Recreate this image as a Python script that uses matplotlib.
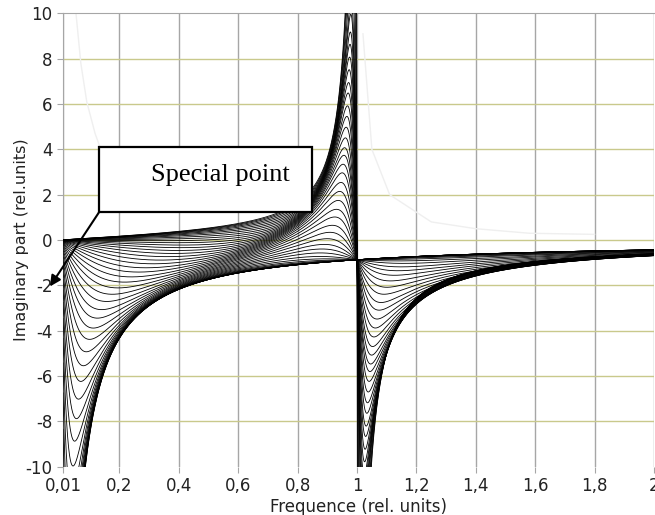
import numpy as np
import matplotlib
matplotlib.use("Agg")
import matplotlib.pyplot as plt
from matplotlib.patches import Rectangle

plt.rcParams["axes.unicode_minus"] = False

# damping of the low-frequency term for each curve (bottom curve -> top curve)
low_damp = [0.0120, 0.0135, 0.0152, 0.0171, 0.0192, 0.0216, 0.0243, 0.0273,
            0.0307, 0.0345, 0.0388, 0.0437, 0.0491, 0.0553, 0.0621, 0.0699,
            0.0786, 0.0884, 0.0994, 0.112, 0.126, 0.141, 0.159, 0.179,
            0.201, 0.226, 0.254, 0.286, 0.321, 0.361, 0.406, 0.457,
            0.514, 0.578, 0.650, 0.731, 0.822, 0.925, 1.04, 1.17,
            1.32, 1.48, 1.66, 1.87, 2.10, 2.37, 2.66, 3.00]
# damping of the resonance at f = 1 for each curve (same order)
res_damp = [15, 12, 9.5, 7.7, 6.2, 5, 4, 3.2, 2.6, 2.1, 1.7, 1.35, 1.08, 0.87,
            0.7, 0.56, 0.45, 0.363, 0.31, 0.27, 0.234, 0.205, 0.183, 0.162,
            0.148, 0.134, 0.1225, 0.113, 0.104, 0.0973, 0.091, 0.0864, 0.0806,
            0.075, 0.070, 0.0657, 0.061, 0.0577, 0.054, 0.0508, 0.0479, 0.0454,
            0.0422, 0.0402, 0.0358, 0.0296, 0.0225, 0.0153]
low_amp = 0.87
res_amp = 0.92
mix_ref = 0.12     # low damping at which the resonance reaches half weight
above_k = 3.0      # extra damping of the low term above resonance

# faint ghost traces visible in the upper part
ghost_left_x = [0.05, 0.07, 0.09, 0.118, 0.14]
ghost_left_y = [10.5, 7.8, 6.1, 4.7, 3.9]
ghost_right_x = [1.02, 1.05, 1.11, 1.25, 1.4, 1.58, 1.8]
ghost_right_y = [9.1, 4.0, 2.0, 0.8, 0.5, 0.3, 0.25]

x_ticks = [0.01, 0.2, 0.4, 0.6, 0.8, 1.0, 1.2, 1.4, 1.6, 1.8, 2.0]
x_labels = ["0,01", "0,2", "0,4", "0,6", "0,8", "1", "1,2", "1,4", "1,6", "1,8", "2"]
y_ticks = [-10, -8, -6, -4, -2, 0, 2, 4, 6, 8, 10]


def curve(x, g, d):
    u = 1 - x ** 2
    k = np.where(x > 1, above_k, 1.0)
    low = -low_amp * x / (x ** 2 + (g * k * u) ** 2)
    w = g ** 2 / (g ** 2 + mix_ref ** 2)
    res = w * res_amp * x * u / (u ** 2 + (d * x) ** 2)
    return low + res


fig = plt.figure(figsize=(6.55, 5.15), dpi=100)
ax = fig.add_axes([0.0962, 0.0938, 0.9023, 0.8802])

for xt in x_ticks:
    ax.axvline(xt, color="#a6a6a6", lw=1.0, zorder=1)
for yt in y_ticks[1:-1]:
    ax.axhline(yt, color="#c9c98c", lw=1.0, zorder=1)

ax.plot(ghost_left_x, ghost_left_y, color="#efefef", lw=1.0, zorder=2)
ax.plot(ghost_right_x, ghost_right_y, color="#efefef", lw=1.0, zorder=2)

f = np.linspace(0.01, 2.0, 8000)
for g, d in zip(low_damp, res_damp):
    ax.plot(f, curve(f, g, d), color="black", lw=0.6, zorder=3)

ax.set_xlim(0.01, 2.0)
ax.set_ylim(-10, 10)
ax.set_xticks(x_ticks)
ax.set_xticklabels(x_labels)
ax.set_yticks(y_ticks)
ax.tick_params(colors="#a6a6a6", labelcolor="#222222", labelsize=12, length=4)
for s in ["right", "bottom"]:
    ax.spines[s].set_visible(False)
for s in ["top", "left"]:
    ax.spines[s].set_color("#a6a6a6")
ax.set_xlabel("Frequence (rel. units)", fontsize=12, color="#222222", labelpad=2)
ax.set_ylabel("Imaginary part (rel.units)", fontsize=11.5, color="#222222")
ax.yaxis.set_label_coords(-0.058, 0.5)

# annotation box with arrow
ax.add_patch(Rectangle((0.132, 1.24), 0.716, 2.86, facecolor="white",
                       edgecolor="black", lw=1.6, zorder=5))
ax.text(0.775, 2.85, "Special point", family="Liberation Serif", fontsize=19,
        ha="right", va="center", zorder=6)
ax.annotate("", xy=(-0.034, -2.05), xytext=(0.132, 1.24),
            arrowprops=dict(arrowstyle="-|>", color="black", lw=1.5,
                            mutation_scale=16, shrinkA=0, shrinkB=0),
            annotation_clip=False, zorder=6)

fig.savefig("out.png", dpi=100)
